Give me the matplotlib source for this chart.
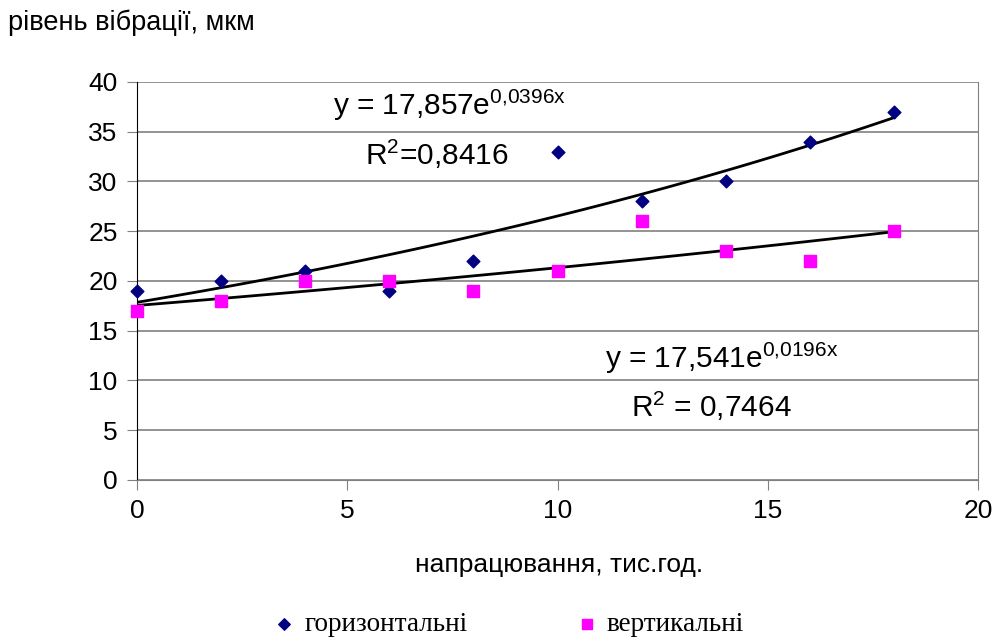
import numpy as np
import matplotlib
matplotlib.use("Agg")
from matplotlib import pyplot as plt

plt.rcParams['font.family'] = ['Liberation Sans', 'DejaVu Sans']
plt.rcParams['mathtext.fontset'] = 'custom'
plt.rcParams['mathtext.rm'] = 'Liberation Sans'
plt.rcParams['mathtext.it'] = 'Liberation Sans'

# напрацювання, тис.год.
x = np.array([0, 2, 4, 6, 8, 10, 12, 14, 16, 18])
horiz = np.array([19, 20, 21, 19, 22, 33, 28, 30, 34, 37])
vert = np.array([17, 18, 20, 20, 19, 21, 26, 23, 22, 25])

eq_h = [r"y = 17,857e$^{\mathrm{0{,}0396x}}$", r"R$^{\mathrm{2}}$=0,8416"]
eq_v = [r"y = 17,541e$^{\mathrm{0{,}0196x}}$", r"R$^{\mathrm{2}}$ = 0,7464"]

fig = plt.figure(figsize=(9.98, 6.43), dpi=100)
ax = fig.add_axes([0.1373, 0.2535, 0.8427, 0.619])

# exponential trend lines fitted to the data
xs = np.linspace(0, 18, 100)
for y in (horiz, vert):
    b, lna = np.polyfit(x, np.log(y), 1)
    ax.plot(xs, np.exp(lna) * np.exp(b * xs), color='black', lw=2, zorder=3)

ax.scatter(x, horiz, marker='D', s=42, color='#000080', zorder=4, clip_on=False,
           label='горизонтальні')
ax.scatter(x, vert, marker='s', s=70, color='#FF00FF', zorder=4, clip_on=False,
           label='вертикальні')

ax.set_xlim(0, 20)
ax.set_ylim(0, 40)
ax.set_xticks([0, 5, 10, 15, 20])
ax.set_yticks(range(0, 41, 5))
ax.yaxis.grid(True, color='#808080', lw=1.2)
ax.set_axisbelow(True)
ax.spines['top'].set_visible(False)
ax.spines['right'].set_color('#808080')
ax.spines['bottom'].set_color('#808080')
ax.spines['left'].set_color('black')
ax.tick_params(axis='both', labelsize=19, length=7, direction='out', color='#808080', pad=7)

ax.text(7.44, 37.6, eq_h[0], fontsize=21.5, ha='center', va='center')
ax.text(7.13, 32.7, eq_h[1], fontsize=21.5, ha='center', va='center')
ax.text(13.9, 12.2, eq_v[0], fontsize=21.5, ha='center', va='center')
ax.text(13.65, 7.4, eq_v[1], fontsize=21.5, ha='center', va='center')

fig.text(0.008, 0.965, 'рівень вібрації, мкм', fontsize=19.5, ha='left', va='center')
fig.text(0.56, 0.122, 'напрацювання, тис.год.', fontsize=19, ha='center', va='center')

leg = fig.legend(loc='center', bbox_to_anchor=(0.507, 0.028), ncol=2, frameon=False,
                 prop={'family': 'Liberation Serif', 'size': 19.5}, columnspacing=3.8,
                 handlelength=1.2, handletextpad=0.15, markerscale=0.9,
                 borderpad=0.1)
fig.savefig('out.png', dpi=100)
